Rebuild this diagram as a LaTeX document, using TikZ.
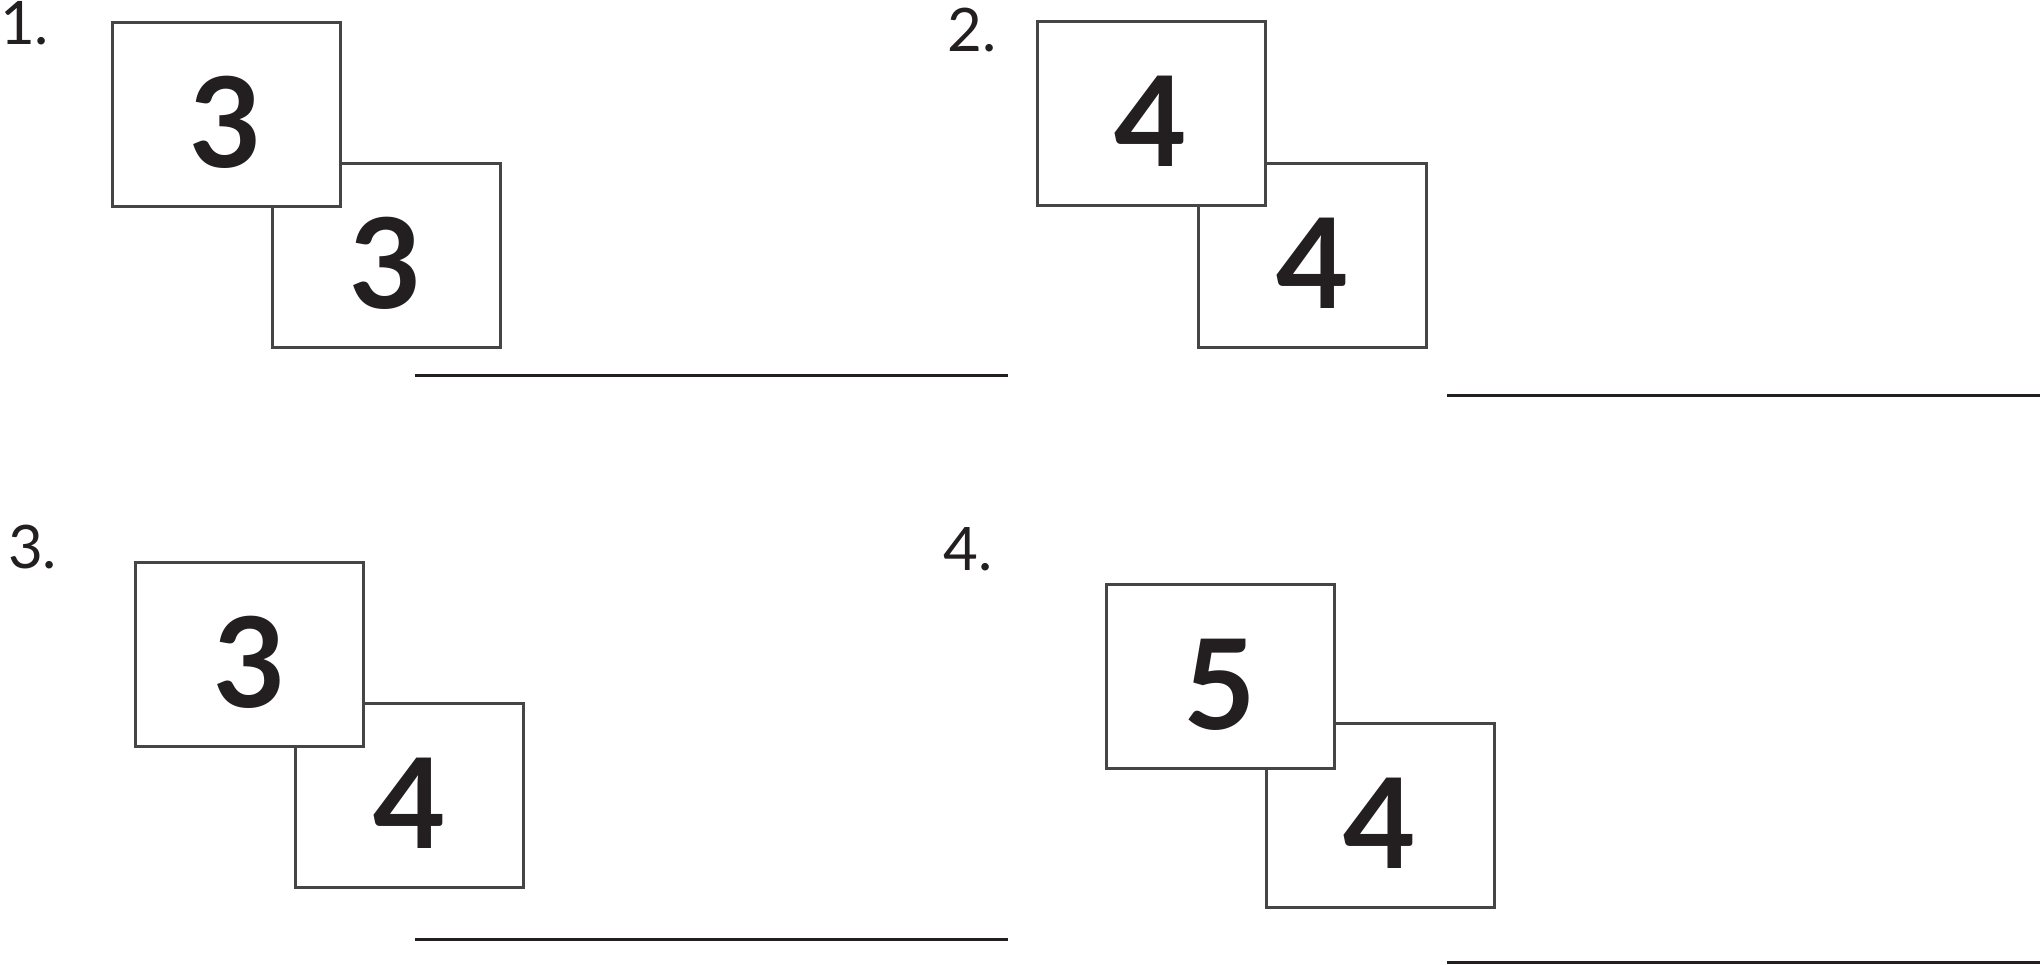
\documentclass[tikz,border=0pt]{standalone}
\usepackage{fontspec}
\setmainfont{Lato}
\definecolor{cardgray}{HTML}{454545}
\definecolor{ink}{HTML}{231F20}
\begin{document}
\begin{tikzpicture}[x=1pt,y=-1pt,
  card/.style={draw=cardgray, line width=3pt, fill=white, minimum width=228pt, minimum height=184pt, inner sep=0pt, anchor=north west},
  digit/.style={font=\fontsize{125}{125}\bfseries\selectfont, text=ink, inner sep=0pt},
  numlabel/.style={font=\fontsize{60}{60}\selectfont, text=ink, inner sep=0pt, anchor=base west},
  answer/.style={draw=ink, line width=3pt}]
\useasboundingbox (0,0) rectangle (2040,965);

% Problem 1
\node[numlabel] (n1) at (0,45) {1.};
\node[card] (b1) at (270.5,162) {};
\node[card] (a1) at (110.5,21) {};
\node[digit] (d1a) at ([yshift=-8pt]a1.center) {3};
\node[digit] (d1b) at ([yshift=-8pt]b1.center) {3};
\coordinate (l1s) at (415,376);
\coordinate (l1e) at (1008,376);
\draw[answer] (l1s) -- (l1e);

% Problem 2
\node[numlabel] (n2) at (947,52) {2.};
\node[card] (b2) at (1197,162) {};
\node[card] (a2) at (1035.5,20) {};
\node[digit] (d2a) at ([yshift=-8pt]a2.center) {4};
\node[digit] (d2b) at ([yshift=-8pt]b2.center) {4};
\coordinate (l2s) at (1447,396);
\coordinate (l2e) at (2040,396);
\draw[answer] (l2s) -- (l2e);

% Problem 3
\node[numlabel] (n3) at (8,568) {3.};
\node[card] (b3) at (294,701.5) {};
\node[card] (a3) at (134,561) {};
\node[digit] (d3a) at ([yshift=-8pt]a3.center) {3};
\node[digit] (d3b) at ([yshift=-8pt]b3.center) {4};
\coordinate (l3s) at (415,939);
\coordinate (l3e) at (1008,939);
\draw[answer] (l3s) -- (l3e);

% Problem 4
\node[numlabel] (n4) at (943,570) {4.};
\node[card] (b4) at (1264.5,722) {};
\node[card] (a4) at (1104.5,583) {};
\node[digit] (d4a) at ([yshift=-8pt]a4.center) {5};
\node[digit] (d4b) at ([yshift=-8pt]b4.center) {4};
\coordinate (l4s) at (1447,962);
\coordinate (l4e) at (2040,962);
\draw[answer] (l4s) -- (l4e);
\end{tikzpicture}
\end{document}
